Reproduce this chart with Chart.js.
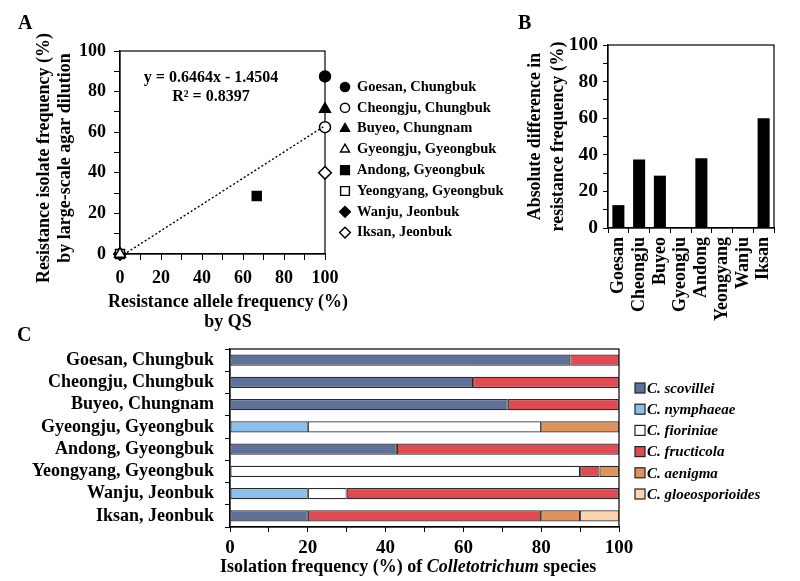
<!DOCTYPE html>
<html><head><meta charset="utf-8">
<script src="https://cdn.jsdelivr.net/npm/chart.js@4.4.0/dist/chart.umd.min.js"></script>
<style>
html,body{margin:0;padding:0;background:#fff;}
#wrap{position:relative;width:800px;height:581px;overflow:hidden;background:#fff;font-family:'Liberation Serif','Times New Roman',serif;font-weight:bold;color:#000;}
canvas{position:absolute;}
.lbl{position:absolute;font-size:20px;font-weight:bold;line-height:20px;}
#xtitleC{position:absolute;font-size:18px;line-height:20px;white-space:nowrap;left:220px;top:556px;}
</style></head><body>
<div id="wrap">
<canvas id="cB" width="320" height="340" style="left:480px;top:0;width:320px;height:340px"></canvas>
<canvas id="cA" width="520" height="340" style="left:0;top:0;width:520px;height:340px"></canvas>
<canvas id="cC" width="800" height="261" style="left:0;top:320px;width:800px;height:261px"></canvas>
<div class="lbl" style="left:18px;top:12px">A</div>
<div class="lbl" style="left:518px;top:12px">B</div>
<div class="lbl" style="left:17px;top:324px">C</div>
<div id="xtitleC">Isolation frequency (%) of <i>Colletotrichum</i> species</div>
</div>
<script>
// ---------- data ----------
const sites = ['Goesan, Chungbuk','Cheongju, Chungbuk','Buyeo, Chungnam','Gyeongju, Gyeongbuk','Andong, Gyeongbuk','Yeongyang, Gyeongbuk','Wanju, Jeonbuk','Iksan, Jeonbuk'];
const shortSites = ['Goesan','Cheongju','Buyeo','Gyeongju','Andong','Yeongyang','Wanju','Iksan'];
const alleleFreqQS = [100,100,100,0,66.7,0,0,100];
const isolateFreqAgar = [87.5,62.5,71.4,0,28.6,0,0,40];
const absDifference = [12.5,37.5,28.6,0,38.1,0,0,60];
const trendSlope = 0.6464;
const trendIntercept = -1.4504;
const trendText = ['y = 0.6464x - 1.4504','R² = 0.8397'];
const titleAx = ['Resistance allele frequency (%)', 'by QS'];
const titleAy = ['Resistance isolate frequency (%)', 'by large-scale agar dilution'];
const titleBy = ['Absolute difference in', 'resistance frequency (%)'];
const pctTicks = [0,20,40,60,80,100];
const species = ['C. scovillei','C. nymphaeae','C. fioriniae','C. fructicola','C. aenigma','C. gloeosporioides'];
const scovillei = [87.5,62.5,71.4,0,42.9,0,0,20];
const nymphaeae = [0,0,0,20,0,0,20,0];
const fioriniae = [0,0,0,60,0,90,10,0];
const fructicola = [12.5,37.5,28.6,0,57.1,5,70,60];
const aenigma = [0,0,0,20,0,5,0,10];
const gloeosporioides = [0,0,0,0,0,0,0,10];
const speciesValues = [scovillei,nymphaeae,fioriniae,fructicola,aenigma,gloeosporioides];

// ---------- styles ----------
const markerStyles = ['circle','circle','triangle','triangle','rect','rect','rectRot','rectRot'];
const markerFilled = [true,false,true,false,true,false,true,false];
const legendMarkerRadius = {circle: 4.6, triangle: 5.2, rect: 6.2, rectRot: 5.4};
const speciesColors = ['#5f7099','#8cc0ec','#ffffff','#e04a52','#e0925b','#fdd3b0'];
const F = "'Liberation Serif','Times New Roman',serif";
const font = (s, lh) => ({family:F, size:s, weight:'bold', lineHeight: lh || 1.28});
const pctLabel = v => pctTicks.includes(v) ? String(v) : '';

const boxPlugin = {
  id:'box',
  beforeDatasetsDraw(c){
    const a = c.chartArea, ctx = c.ctx;
    ctx.save(); ctx.strokeStyle = '#000'; ctx.lineWidth = 1.2;
    ctx.strokeRect(a.left, a.top, a.right - a.left, a.bottom - a.top);
    ctx.restore();
  }
};

function drawMarker(ctx, style, filled, r, x, y){
  ctx.save();
  ctx.fillStyle = filled ? '#000' : '#fff';
  ctx.strokeStyle = '#000';
  ctx.lineWidth = 1.4;
  Chart.helpers.drawPoint(ctx, {pointStyle: style, radius: r, borderWidth: 1.4, rotation: 0}, x, y);
  ctx.restore();
}

// font size whose first-line width matches the target width in the figure
function fitSize(ctx, text, target){
  ctx.font = 'bold 20px ' + F;
  return 20 * target / ctx.measureText(text).width;
}

// ---------- Panel A ----------
const legendA = {
  id:'legendA',
  afterDraw(c){
    const ctx = c.ctx, a = c.chartArea;
    ctx.save();
    ctx.font = 'bold 14.5px ' + F;
    ctx.textBaseline = 'middle';
    ctx.textAlign = 'left';
    sites.forEach((s, i) => {
      const y = 87 + i * 20.8;
      drawMarker(ctx, markerStyles[i], markerFilled[i], legendMarkerRadius[markerStyles[i]], 345, y);
      ctx.fillStyle = '#000';
      ctx.fillText(s, 357, y);
    });
    ctx.font = 'bold 16px ' + F;
    ctx.textAlign = 'center';
    ctx.fillText(trendText[0], 211, 78);
    ctx.fillText(trendText[1], 211, 97);
    // x title
    const sx = fitSize(ctx, titleAx[0], 240);
    ctx.font = 'bold ' + sx + 'px ' + F;
    const cx = (a.left + a.right) / 2 + 5.5;
    ctx.fillText(titleAx[0], cx, 302);
    ctx.fillText(titleAx[1], cx, 322);
    // y title
    const sy = fitSize(ctx, titleAy[0], 250);
    ctx.font = 'bold ' + sy + 'px ' + F;
    ctx.translate(0, 158);
    ctx.rotate(-Math.PI / 2);
    ctx.fillText(titleAy[0], 0, 44);
    ctx.fillText(titleAy[1], 0, 65);
    ctx.restore();
  }
};

const scatterSets = sites.map((s, i) => ({
  label: s,
  data: [{x: alleleFreqQS[i], y: isolateFreqAgar[i]}],
  pointStyle: markerStyles[i],
  pointRadius: markerStyles[i] === 'circle' ? 5.5 : 6.3,
  pointBackgroundColor: markerFilled[i] ? '#000' : '#fff',
  pointBorderColor: '#000',
  pointBorderWidth: 1.5,
  clip: false
}));

new Chart(document.getElementById('cA'), {
  type: 'scatter',
  data: {
    datasets: [{
      label: 'trend',
      data: [{x: 0, y: trendIntercept}, {x: 100, y: trendSlope * 100 + trendIntercept}],
      showLine: true, borderColor: '#000', borderWidth: 1.4, borderDash: [2, 2.2],
      pointRadius: 0, fill: false
    }].concat(scatterSets)
  },
  options: {
    responsive: false, animation: false,
    layout: {padding: {top: 51, right: 195, left: 0, bottom: 0}},
    plugins: {legend: {display: false}, tooltip: {enabled: false}},
    scales: {
      x: {
        type: 'linear', min: 0, max: 100,
        ticks: {stepSize: 10, callback: pctLabel, font: font(18), color: '#000', padding: 7, maxRotation: 0, autoSkip: false},
        grid: {drawOnChartArea: false, tickLength: 6, color: '#000'},
        border: {color: '#000', width: 1.2},
        afterFit: s => { s.height = 86; }
      },
      y: {
        type: 'linear', min: 0, max: 100,
        ticks: {stepSize: 10, callback: pctLabel, font: font(18), color: '#000', padding: 8, autoSkip: false},
        grid: {drawOnChartArea: false, tickLength: 6, color: '#000'},
        border: {color: '#000', width: 1.2},
        afterFit: s => { s.width = 120; }
      }
    }
  },
  plugins: [boxPlugin, legendA]
});

// ---------- Panel B ----------
const titleB = {
  id:'titleB',
  afterDraw(c){
    const ctx = c.ctx, a = c.chartArea;
    ctx.save();
    const s = fitSize(ctx, titleBy[1], 190);
    ctx.font = 'bold ' + s + 'px ' + F;
    ctx.fillStyle = '#000';
    ctx.textAlign = 'center';
    ctx.textBaseline = 'middle';
    ctx.translate(0, (a.top + a.bottom) / 2);
    ctx.rotate(-Math.PI / 2);
    ctx.fillText(titleBy[0], 0, 55);
    ctx.fillText(titleBy[1], 0, 78);
    ctx.restore();
  }
};

new Chart(document.getElementById('cB'), {
  type: 'bar',
  data: {
    labels: shortSites,
    datasets: [{label: 'Absolute difference', data: absDifference, backgroundColor: '#000', borderWidth: 0, barPercentage: 0.58, categoryPercentage: 1}]
  },
  options: {
    responsive: false, animation: false,
    layout: {padding: {top: 45, right: 26, left: 0, bottom: 0}},
    plugins: {legend: {display: false}, tooltip: {enabled: false}},
    scales: {
      x: {
        ticks: {font: font(18), color: '#000', minRotation: 90, maxRotation: 90, padding: 4, autoSkip: false},
        grid: {drawOnChartArea: false, tickLength: 5, color: '#000', offset: true},
        border: {color: '#000', width: 1.2},
        afterFit: s => { s.height = 112; }
      },
      y: {
        type: 'linear', min: 0, max: 100,
        ticks: {stepSize: 10, callback: pctLabel, font: font(19.5), color: '#000', padding: 5, autoSkip: false},
        grid: {drawOnChartArea: false, tickLength: 5, color: '#000'},
        border: {color: '#000', width: 1.2},
        afterFit: s => { s.width = 128; }
      }
    }
  },
  plugins: [boxPlugin, titleB]
});

// ---------- Panel C ----------
const legendC = {
  id:'legendC',
  afterDraw(c){
    const ctx = c.ctx;
    ctx.save();
    ctx.font = 'italic bold 15px ' + F;
    ctx.textBaseline = 'middle';
    ctx.textAlign = 'left';
    species.forEach((s, i) => {
      const y = 68 + i * 21.2;
      ctx.fillStyle = speciesColors[i];
      ctx.fillRect(635, y - 5, 10, 10);
      ctx.strokeStyle = '#222'; ctx.lineWidth = 1.2;
      ctx.strokeRect(635, y - 5, 10, 10);
      ctx.fillStyle = '#000';
      ctx.fillText(s, 647, y + 1);
    });
    ctx.restore();
  }
};

new Chart(document.getElementById('cC'), {
  type: 'bar',
  data: {
    labels: sites,
    datasets: species.map((s, i) => ({
      label: s, data: speciesValues[i], backgroundColor: speciesColors[i],
      borderColor: '#2a2a2a', borderWidth: 1.1, borderSkipped: false,
      barPercentage: 0.5, categoryPercentage: 1
    }))
  },
  options: {
    indexAxis: 'y',
    responsive: false, animation: false,
    layout: {padding: {top: 29, right: 181, left: 0, bottom: 0}},
    plugins: {legend: {display: false}, tooltip: {enabled: false}},
    scales: {
      x: {
        type: 'linear', min: 0, max: 100, stacked: true,
        ticks: {stepSize: 10, callback: pctLabel, font: font(19), color: '#000', padding: 4, maxRotation: 0, autoSkip: false},
        grid: {drawOnChartArea: false, tickLength: 5, color: '#000'},
        border: {color: '#000', width: 1.2},
        afterFit: s => { s.height = 54; }
      },
      y: {
        stacked: true,
        ticks: {font: font(18), color: '#000', padding: 11, autoSkip: false},
        grid: {drawOnChartArea: false, tickLength: 5, color: '#000', offset: true},
        border: {color: '#000', width: 1.2},
        afterFit: s => { s.width = 230; }
      }
    }
  },
  plugins: [boxPlugin, legendC]
});
</script>
</body></html>
